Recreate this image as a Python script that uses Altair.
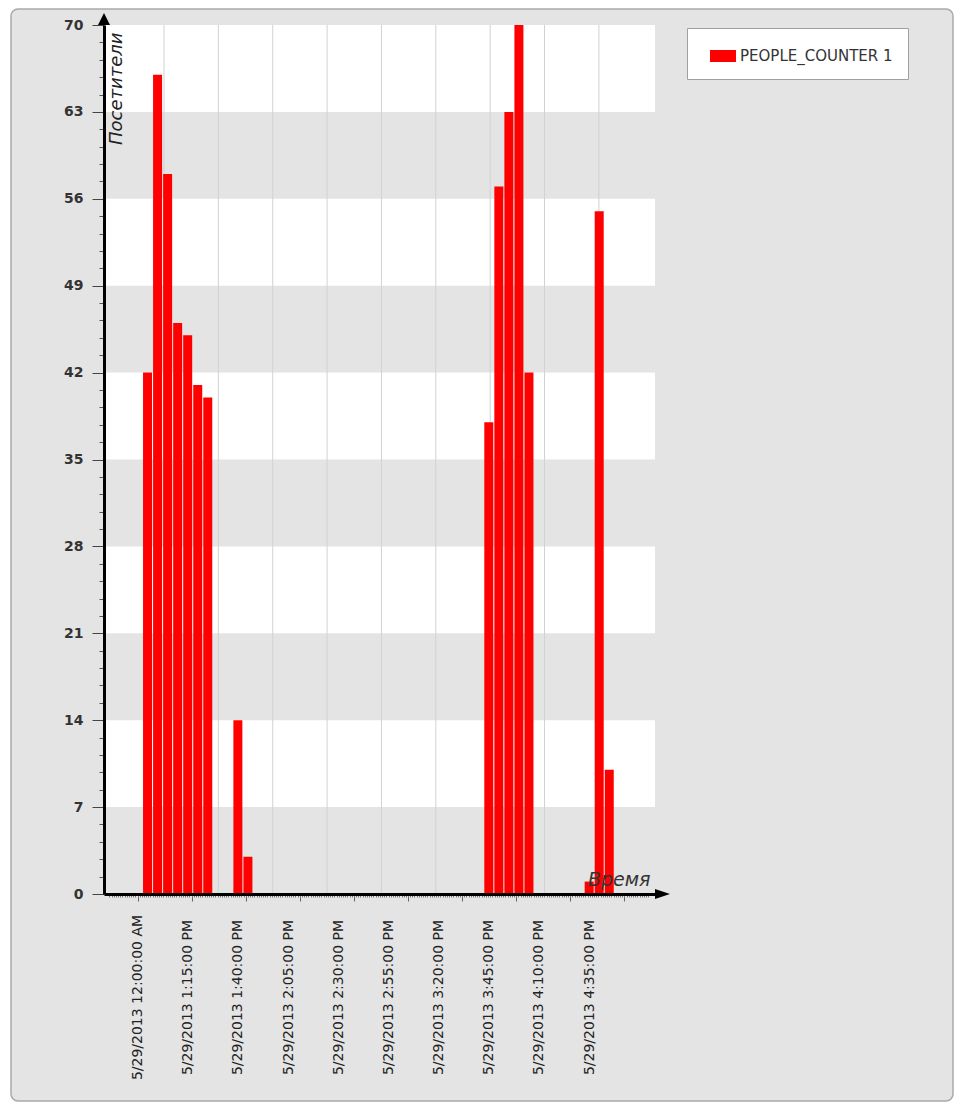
import altair as alt
import pandas as pd

# ---------------- data ----------------
series_name = "PEOPLE_COUNTER 1"
# bar times, minutes after 12:00 PM on 5/29/2013 (5-minute intervals)
bar_minutes = [55, 60, 65, 70, 75, 80, 85, 100, 105, 225, 230, 235, 240, 245, 275, 280, 285]
bar_values = [42, 66, 58, 46, 45, 41, 40, 14, 3, 38, 57, 63, 70, 42, 1, 55, 10]

# x tick labels (positions in minutes after 12:00 PM)
label_minutes = [50, 75, 100, 125, 150, 175, 200, 225, 250, 275]
label_texts = [
    "5/29/2013 12:00:00 AM",
    "5/29/2013 1:15:00 PM",
    "5/29/2013 1:40:00 PM",
    "5/29/2013 2:05:00 PM",
    "5/29/2013 2:30:00 PM",
    "5/29/2013 2:55:00 PM",
    "5/29/2013 3:20:00 PM",
    "5/29/2013 3:45:00 PM",
    "5/29/2013 4:10:00 PM",
    "5/29/2013 4:35:00 PM",
]
y_ticks = [0, 7, 14, 21, 28, 35, 42, 49, 56, 63, 70]
band_lo = [0, 14, 28, 42, 56]
band_hi = [7, 21, 35, 49, 63]

# axis decoration positions (tick marks / grid lines of the original chart)
major_ticks = [round(50 + k * 26.95, 2) for k in range(10)]
minor_ticks = [round(50 + k * 1.078, 3) for k in range(-13, 237)]
grid_lines = [round(63.2 + k * 27.08, 2) for k in range(9)]
y_minor = [round(i * 1.4, 1) for i in range(51)]

X_DOMAIN = [35.8, 305.3]
Y_DOMAIN = [0, 70]

FONT = "DejaVu Sans"
GRAY = "#e4e4e4"

bars_df = pd.DataFrame({"t": bar_minutes, "v": bar_values, "s": [series_name] * len(bar_minutes)})
bands_df = pd.DataFrame({"lo": band_lo, "hi": band_hi})
grid_df = pd.DataFrame({"g": grid_lines})
minor_df = pd.DataFrame({"m": minor_ticks})
one = pd.DataFrame({"a": [0]})

xscale = alt.Scale(domain=X_DOMAIN, nice=False, zero=False)
yscale = alt.Scale(domain=Y_DOMAIN, nice=False, zero=False)

label_expr = (
    "[" + ",".join("'" + t + "'" for t in label_texts) + "]"
    + "[indexof([" + ",".join(str(m) for m in label_minutes) + "], datum.value)]"
)

# frame of the whole panel
frame = alt.Chart(one).mark_rect(
    fill=GRAY, stroke="#a9a9a9", strokeWidth=1.5, cornerRadius=7
).encode(x=alt.value(-93), x2=alt.value(849), y=alt.value(-16), y2=alt.value(1076))

plot_bg = alt.Chart(one).mark_rect(color="white").encode(
    x=alt.value(0), x2=alt.value("width"), y=alt.value(0), y2=alt.value("height")
)

bands = alt.Chart(bands_df).mark_rect(color=GRAY).encode(
    x=alt.value(0),
    x2=alt.value("width"),
    y=alt.Y(
        "lo:Q",
        scale=yscale,
        axis=alt.Axis(
            orient="left", values=y_minor, tickSize=5, tickColor="#555", tickWidth=1,
            labels=False, domain=False, grid=False, title=None, zindex=1,
        ),
    ),
    y2="hi:Q",
)

grid = alt.Chart(grid_df).mark_rule(color="#d2d2d2", strokeWidth=1).encode(
    x=alt.X(
        "g:Q",
        scale=xscale,
        axis=alt.Axis(
            orient="bottom", values=major_ticks, tickSize=7, tickColor="#666", tickWidth=1,
            labels=False, domain=False, grid=False, title=None, zindex=1,
        ),
    )
)

minor = alt.Chart(minor_df).mark_point(opacity=0, size=1).encode(
    x=alt.X(
        "m:Q",
        scale=xscale,
        axis=alt.Axis(
            orient="bottom", values=minor_ticks, tickSize=3, tickColor="#777", tickWidth=1,
            labels=False, domain=False, grid=False, title=None, zindex=1,
        ),
    ),
    y=alt.value(0),
)

bars = alt.Chart(bars_df).mark_bar(size=9, orient="vertical").encode(
    x=alt.X(
        "t:Q",
        scale=xscale,
        axis=alt.Axis(
            orient="bottom", values=label_minutes, labelExpr=label_expr,
            labelAngle=270, labelAlign="center", labelBaseline="middle",
            labelPadding=103, labelFont=FONT, labelFontSize=14, labelColor="#222",
            labelFlush=False, labelOverlap=False, labelLimit=400,
            ticks=False, tickSize=0, domain=True, domainColor="black", domainWidth=3,
            grid=False, title="Время", titleFont=FONT, titleFontStyle="italic",
            titleFontWeight="normal", titleFontSize=19, titleColor="#333",
            titleAlign="right", titleBaseline="alphabetic", titleAngle=0,
            titleX=546, titleY=-9, zindex=1,
        ),
    ),
    y=alt.Y(
        "v:Q",
        scale=yscale,
        axis=alt.Axis(
            orient="left", values=y_ticks, tickSize=12, tickColor="#444", tickWidth=1,
            labelFont=FONT, labelFontWeight="bold", labelFontSize=14, labelColor="#333",
            labelPadding=9, labelFlush=False, labelOverlap=False,
            domain=True, domainColor="black", domainWidth=3, grid=False,
            title="Посетители", titleFont=FONT, titleFontStyle="italic",
            titleFontWeight="normal", titleFontSize=18, titleColor="#222",
            titleAngle=270, titleAlign="right", titleBaseline="top",
            titleX=3, titleY=7, zindex=1,
        ),
    ),
    color=alt.Color(
        "s:N",
        scale=alt.Scale(domain=[series_name], range=["#ff0000"]),
        legend=alt.Legend(
            orient="none", legendX=583, legendY=3, title=None,
            symbolType="M-1,-0.46L1,-0.46L1,0.46L-1,0.46Z", symbolSize=676,
            symbolStrokeWidth=0, symbolOffset=8, labelFont=FONT, labelFontSize=15,
            labelColor="#333", labelLimit=300, labelOffset=4, padding=15,
            fillColor="white", strokeColor="#a0a0a0",
        ),
    ),
)

arrow_y = alt.Chart(one).mark_point(
    shape="M-0.5,0L0,-1L0.5,0Z", filled=True, color="black", size=576, opacity=1, strokeWidth=0
).encode(x=alt.value(0), y=alt.value(0))

arrow_x = alt.Chart(one).mark_point(
    shape="M0,-0.33L1,0L0,0.33Z", filled=True, color="black", size=900, opacity=1, strokeWidth=0
).encode(x=alt.value("width"), y=alt.value("height"))

chart = (
    alt.layer(frame, plot_bg, bands, grid, minor, bars, arrow_y, arrow_x)
    .resolve_axis(x="independent", y="independent")
    .properties(
        width=551,
        height=869,
        padding={"left": 96, "top": 17, "right": 300, "bottom": 209},
        autosize=alt.AutoSizeParams(type="none"),
    )
    .configure(background="white")
    .configure_view(stroke="transparent")
)

chart.save("out.html", embed_options={"renderer": "svg", "actions": False})
